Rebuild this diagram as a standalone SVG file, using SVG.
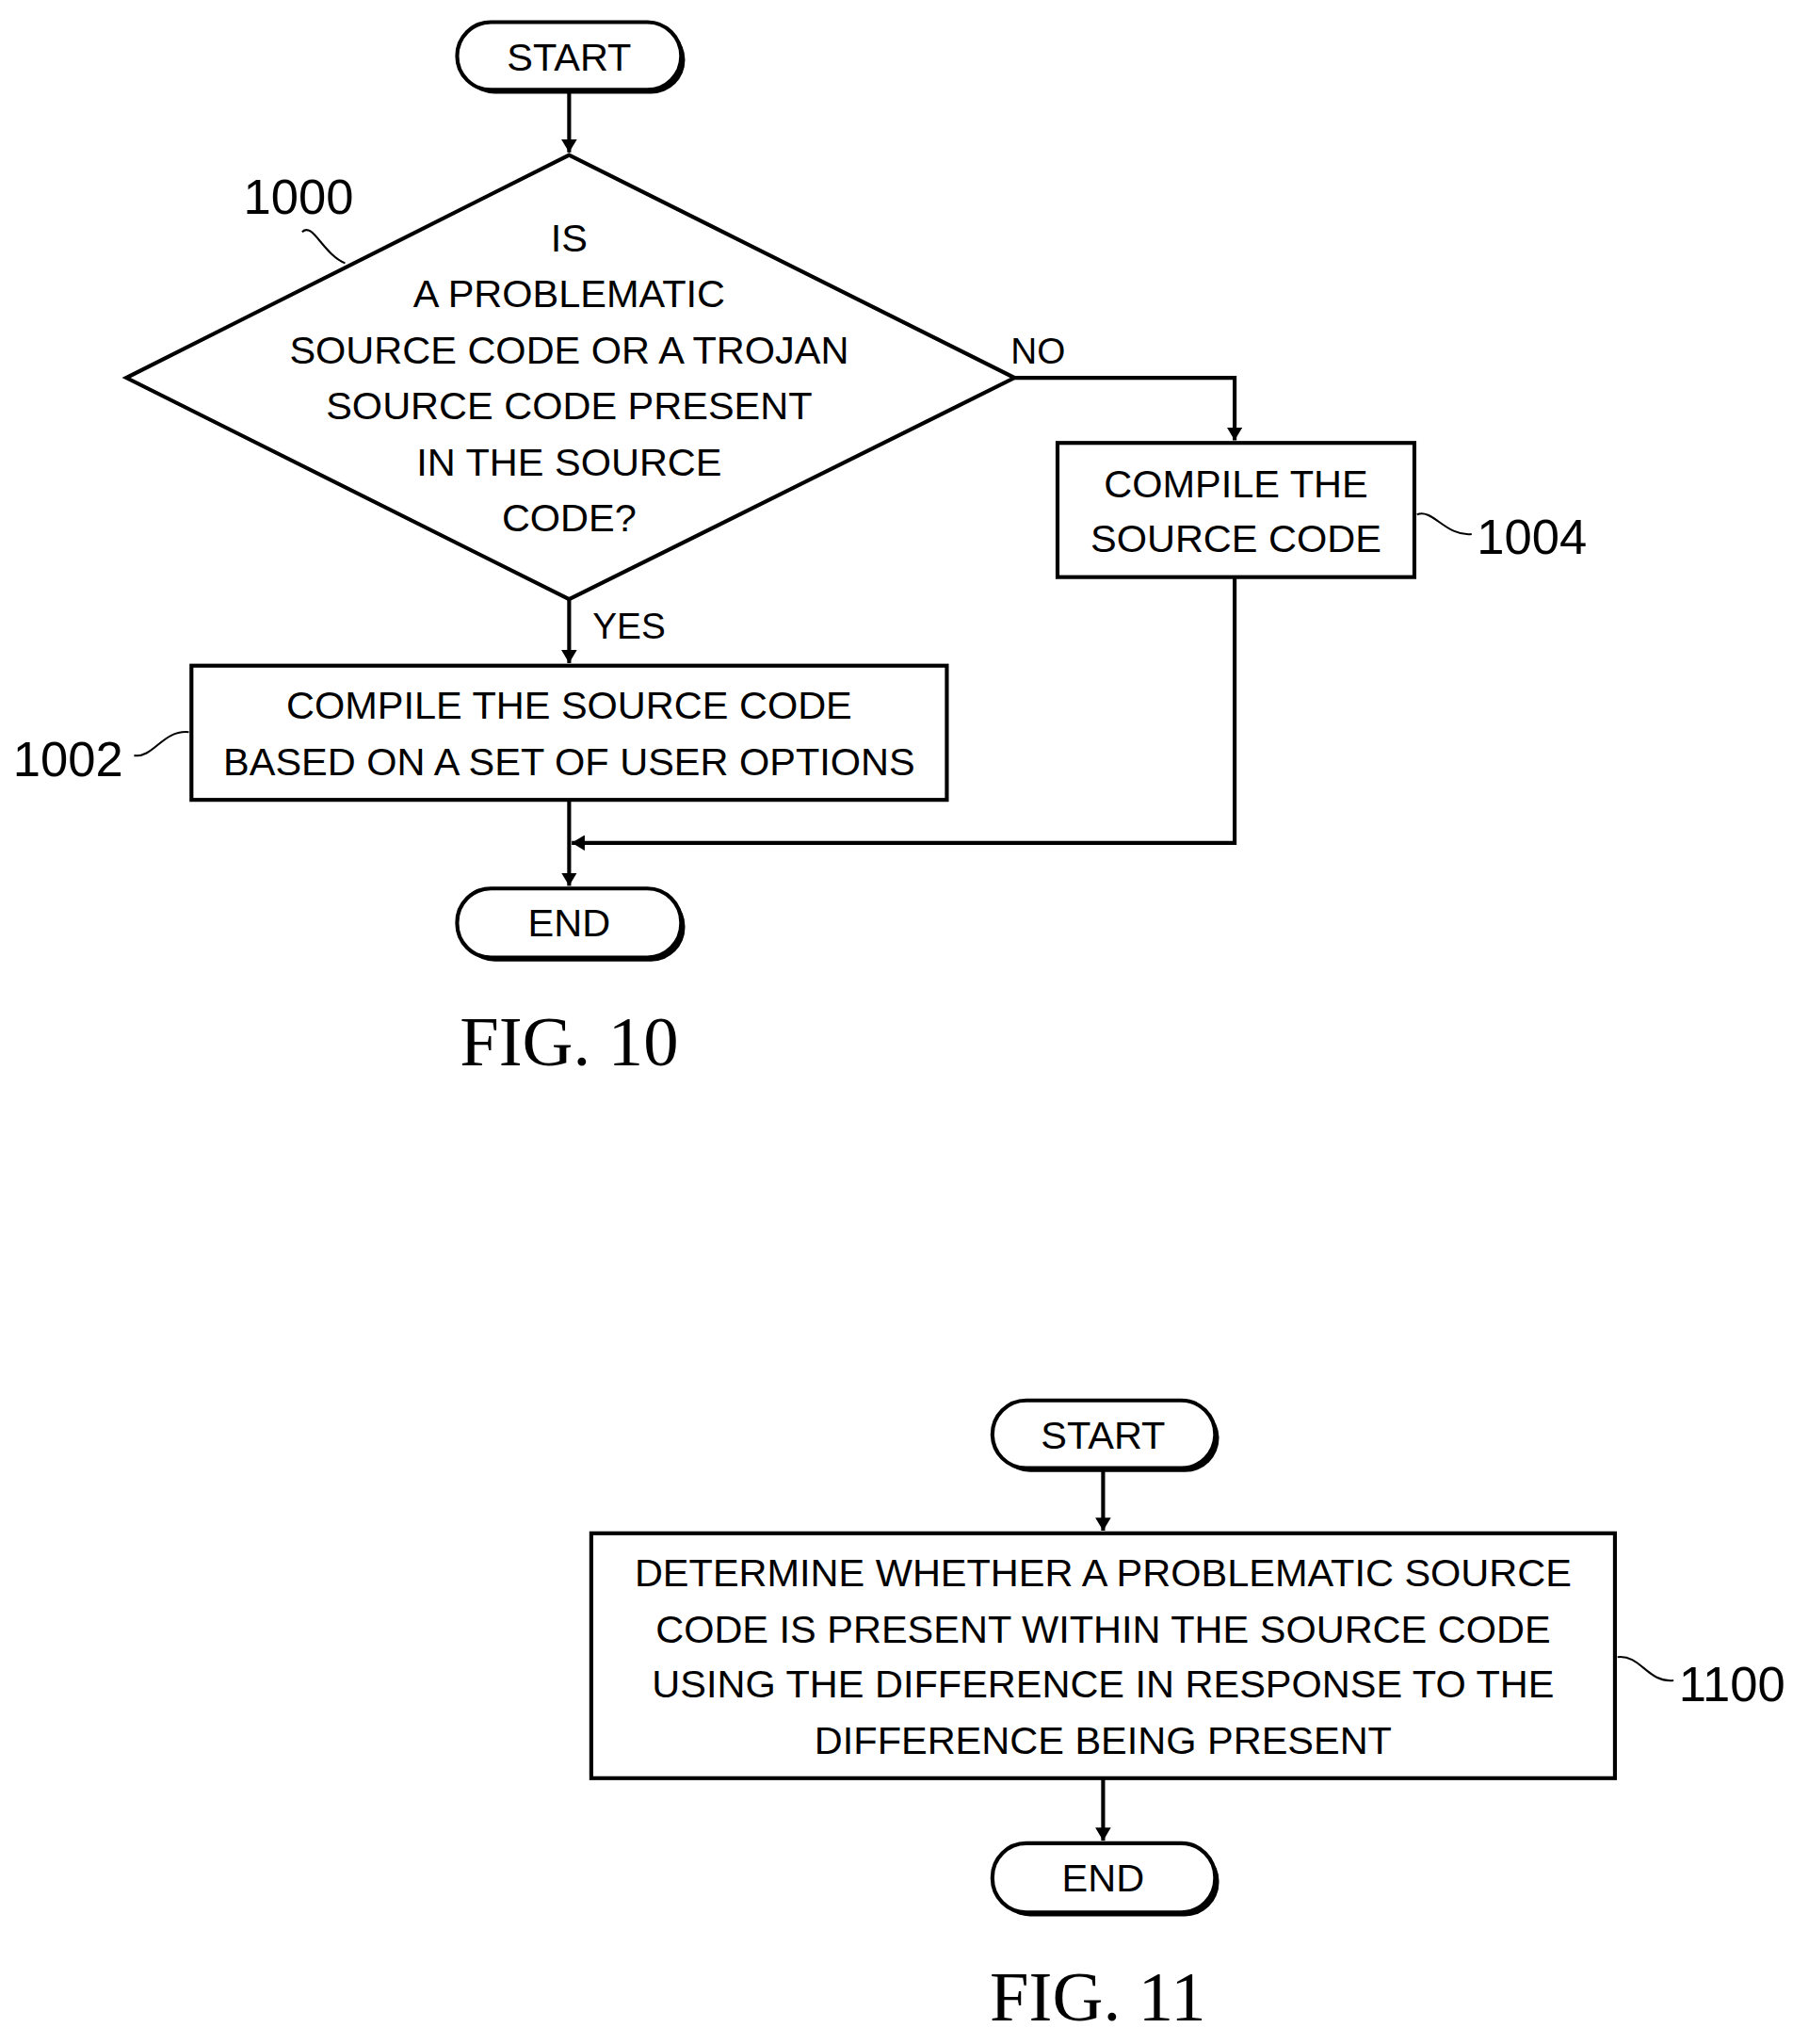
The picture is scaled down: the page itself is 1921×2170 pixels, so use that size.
<svg xmlns="http://www.w3.org/2000/svg" width="1921" height="2170" viewBox="0 0 1921 2170">
<defs>
<marker id="ah" markerWidth="10" markerHeight="12" refX="10" refY="6" orient="auto" markerUnits="userSpaceOnUse"><path d="M0,0 L10,6 L0,12 Z" fill="#000"/></marker>
<style>
.s{fill:#fff;stroke:#000;stroke-width:3}
.t{font-family:"Liberation Sans",Arial,sans-serif;font-size:30px;text-anchor:middle;fill:#000}
.l{font-family:"Liberation Sans",Arial,sans-serif;font-size:38px;fill:#000}
.f{font-family:"Liberation Serif","Times New Roman",serif;font-size:54px;text-anchor:middle;fill:#000}
.c{fill:none;stroke:#000;stroke-width:3}
.q{fill:none;stroke:#000;stroke-width:1.5}
</style>
</defs>
<rect width="1921" height="2170" fill="#fff"/>
<g transform="scale(1.383)">
<g id="connectors">
<path class="c" d="M437,69 V117" marker-end="url(#ah)"/>
<path class="c" d="M779,290 H948 V338" marker-end="url(#ah)"/>
<path class="c" d="M437,460 V509" marker-end="url(#ah)"/>
<path class="c" d="M437,614 V680" marker-end="url(#ah)"/>
<path class="c" d="M948,443 V647 H439" marker-end="url(#ah)"/>
<path class="c" d="M847,1127 V1175" marker-end="url(#ah)"/>
<path class="c" d="M847,1365 V1413" marker-end="url(#ah)"/>
<text class="t" x="797" y="279" style="font-size:28px">NO</text>
<text class="t" x="483" y="490" style="font-size:28px">YES</text>
</g>
<g id="start10"><rect x="354" y="20" width="172" height="52" rx="26" fill="#000"/><rect class="s" x="351" y="17" width="172" height="52" rx="26"/><text class="t" x="437" y="54">START</text></g>
<g id="n1000"><path class="s" d="M437,119 L779,290 L437,460 L97,290 Z"/>
<text class="t" x="437" y="193">IS</text><text class="t" x="437" y="236">A PROBLEMATIC</text><text class="t" x="437" y="279">SOURCE CODE OR A TROJAN</text><text class="t" x="437" y="322">SOURCE CODE PRESENT</text><text class="t" x="437" y="365">IN THE SOURCE</text><text class="t" x="437" y="408">CODE?</text>
<text class="l" x="187" y="164">1000</text><path class="q" d="M232,178 C240,170 248,195 265,202"/></g>
<g id="n1004"><rect class="s" x="812" y="340" width="274" height="103"/><text class="t" x="949" y="382">COMPILE THE</text><text class="t" x="949" y="424">SOURCE CODE</text>
<text class="l" x="1134" y="425">1004</text><path class="q" d="M1088,395 C1100,390 1110,412 1130,410"/></g>
<g id="n1002"><rect class="s" x="147" y="511" width="580" height="103"/><text class="t" x="437" y="552">COMPILE THE SOURCE CODE</text><text class="t" x="437" y="595">BASED ON A SET OF USER OPTIONS</text>
<text class="l" x="10" y="596">1002</text><path class="q" d="M103,580 C118,582 125,560 145,562"/></g>
<g id="end10"><rect x="354" y="685" width="172" height="53" rx="26" fill="#000"/><rect class="s" x="351" y="682" width="172" height="53" rx="26"/><text class="t" x="437" y="719">END</text></g>
<text class="f" x="437" y="818">FIG. 10</text>
<g id="start11"><rect x="765" y="1078" width="171" height="52" rx="26" fill="#000"/><rect class="s" x="762" y="1075" width="171" height="52" rx="26"/><text class="t" x="847" y="1112">START</text></g>
<g id="n1100"><rect class="s" x="454" y="1177" width="786" height="188"/>
<text class="t" x="847" y="1218">DETERMINE WHETHER A PROBLEMATIC SOURCE</text><text class="t" x="847" y="1261">CODE IS PRESENT WITHIN THE SOURCE CODE</text><text class="t" x="847" y="1303">USING THE DIFFERENCE IN RESPONSE TO THE</text><text class="t" x="847" y="1346">DIFFERENCE BEING PRESENT</text>
<text class="l" x="1289" y="1306">1100</text><path class="q" d="M1242,1272 C1260,1270 1265,1292 1285,1290"/></g>
<g id="end11"><rect x="765" y="1418" width="171" height="53" rx="26" fill="#000"/><rect class="s" x="762" y="1415" width="171" height="53" rx="26"/><text class="t" x="847" y="1452">END</text></g>
<text class="f" x="843" y="1551">FIG. 11</text>
</g>
</svg>
